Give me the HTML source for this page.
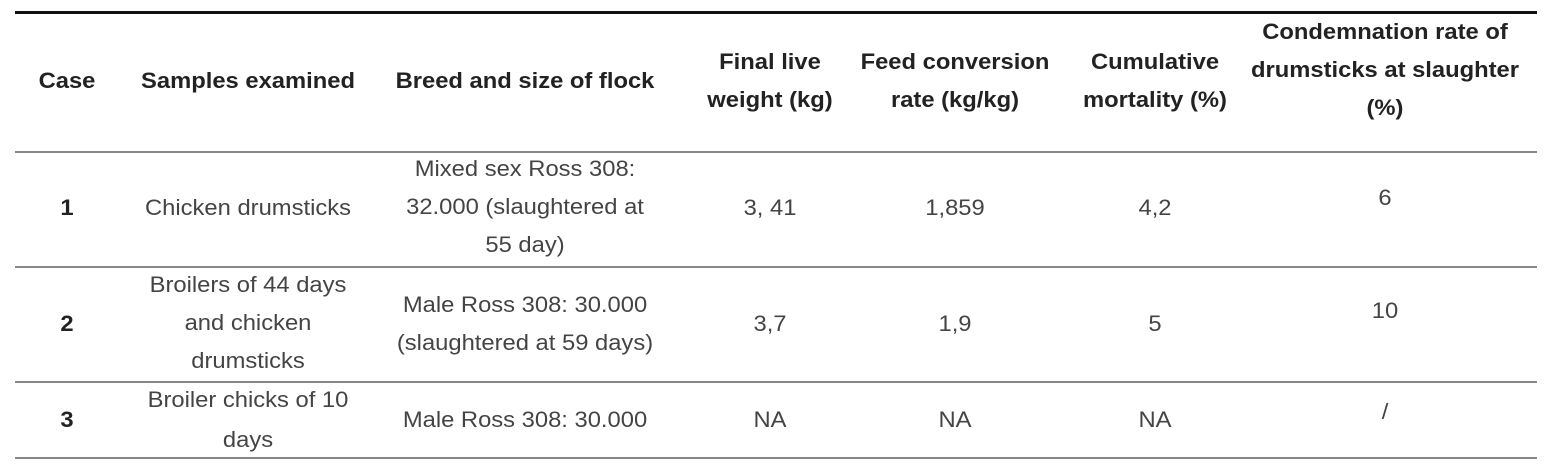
<!DOCTYPE html>
<html><head><meta charset="utf-8"><style>
body{margin:0;width:1559px;height:465px;background:#fff;position:relative;overflow:hidden;font-family:"Liberation Sans",sans-serif;}
.l{position:absolute;left:15px;width:1522px;background:#888;height:1.5px}
.t{position:absolute;transform:translate(-50%,-50%) scaleX(1.08);text-align:center;white-space:nowrap;font-size:22px;color:#444;line-height:38px;letter-spacing:0px}
.h{font-weight:bold;color:#222}
</style></head><body>
<div class="l" style="top:11px;height:2.5px;background:#111"></div>
<div class="l" style="top:151px"></div>
<div class="l" style="top:266px"></div>
<div class="l" style="top:381px"></div>
<div class="l" style="top:457px"></div>

<div class="t h" style="left:67px;top:81px">Case</div>
<div class="t h" style="left:248px;top:81px">Samples examined</div>
<div class="t h" style="left:525px;top:81px">Breed and size of flock</div>
<div class="t h" style="left:770px;top:81px">Final live<br>weight (kg)</div>
<div class="t h" style="left:955px;top:81px">Feed conversion<br>rate (kg/kg)</div>
<div class="t h" style="left:1155px;top:81px">Cumulative<br>mortality (%)</div>
<div class="t h" style="left:1385px;top:70px">Condemnation rate of<br>drumsticks at slaughter<br>(%)</div>

<div class="t h" style="left:67px;top:208px">1</div>
<div class="t" style="left:248px;top:208px">Chicken drumsticks</div>
<div class="t" style="left:525px;top:207px">Mixed sex Ross 308:<br>32.000 (slaughtered at<br>55 day)</div>
<div class="t" style="left:770px;top:208px">3, 41</div>
<div class="t" style="left:955px;top:208px">1,859</div>
<div class="t" style="left:1155px;top:208px">4,2</div>
<div class="t" style="left:1385px;top:198px">6</div>

<div class="t h" style="left:67px;top:324px">2</div>
<div class="t" style="left:248px;top:323px">Broilers of 44 days<br>and chicken<br>drumsticks</div>
<div class="t" style="left:525px;top:324px">Male Ross 308: 30.000<br>(slaughtered at 59 days)</div>
<div class="t" style="left:770px;top:324px">3,7</div>
<div class="t" style="left:955px;top:324px">1,9</div>
<div class="t" style="left:1155px;top:324px">5</div>
<div class="t" style="left:1385px;top:311px">10</div>

<div class="t h" style="left:67px;top:420px">3</div>
<div class="t" style="left:248px;top:420px;line-height:40px">Broiler chicks of 10<br>days</div>
<div class="t" style="left:525px;top:420px">Male Ross 308: 30.000</div>
<div class="t" style="left:770px;top:420px">NA</div>
<div class="t" style="left:955px;top:420px">NA</div>
<div class="t" style="left:1155px;top:420px">NA</div>
<div class="t" style="left:1385px;top:412px">/</div>
</body></html>
